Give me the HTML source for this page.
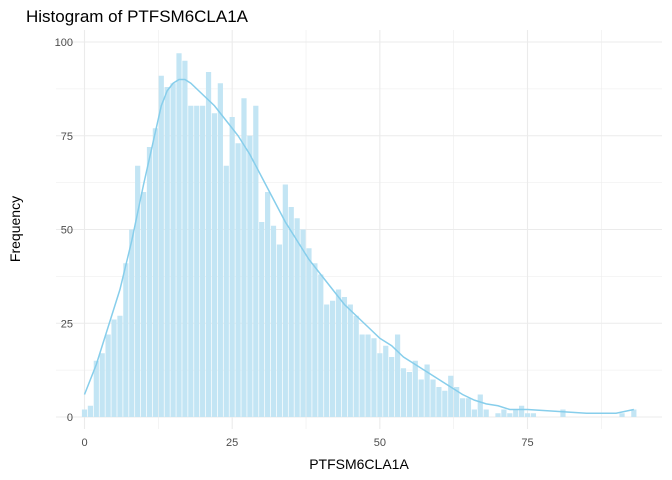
<!DOCTYPE html>
<html><head><meta charset="utf-8"><style>
body{margin:0;background:#fff;}
svg{display:block;font-family:"Liberation Sans",sans-serif;}
</style></head><body>
<svg id="chart" width="672" height="480">
<text x="26" y="22" font-size="17" fill="#000">Histogram of PTFSM6CLA1A</text>
<g id="grid"></g><g id="bars"></g><g id="line"></g><g id="axes"></g>
<text x="359" y="469" font-size="14" text-anchor="middle" fill="#000">PTFSM6CLA1A</text>
<text transform="translate(20,229) rotate(-90)" font-size="14" text-anchor="middle" fill="#000">Frequency</text>
</svg>
<script>
const binStarts = [0,1,2,3,4,5,6,7,8,9,10,11,12,13,14,15,16,17,18,19,20,21,22,23,24,25,26,27,28,29,30,31,32,33,34,35,36,37,38,39,40,41,42,43,44,45,46,47,48,49,50,51,52,53,54,55,56,57,58,59,60,61,62,63,64,65,66,67,68,69,70,71,72,73,74,75,76,77,78,79,80,81,82,83,84,85,86,87,88,89,90,91,92,93];
const counts = [2,3,15,17,22,26,27,41,50,67,60,72,77,91,88,89,97,95,83,83,83,92,81,89,67,80,73,85,75,83,52,60,51,46,62,56,53,50,45,41,38,30,31,34,32,30,27,22,22,21,17,19,16,22,13,12,15,10,14,10,8,7,11,8,5,5,2,6,2,0,1,2,1,2,3,1,1,0,0,0,0,2,0,0,0,0,0,0,0,0,0,1,0,2];
const curveX = [0,2,4,6,8,10,12,13,14,15,16,17,18,20,22,24,26,28,30,32,34,36,38,40,42,44,46,48,50,52,54,56,58,60,62,64,66,68,70,72,75,80,85,90,93];
const curveY = [6,14,24,34,47,62,76,83,87,89,90,90,89,86,83,79,75,70,64,58,52,47,42,38,34,30,27,24,21,19,16,14,12,10,8,6,4.5,3.5,3,2,2,1.5,1,1,2];
const xTicks = [0,25,50,75];
const yTicks = [0,25,50,75,100];
const NS="http://www.w3.org/2000/svg";
const X=v=>84.5+v*5.907, Y=v=>417-v*3.75;
const L=56,R=662,T=30,B=429;
const grid=document.getElementById('grid');
function ln(g,x1,y1,x2,y2,c,w){const e=document.createElementNS(NS,'line');e.setAttribute('x1',x1);e.setAttribute('y1',y1);e.setAttribute('x2',x2);e.setAttribute('y2',y2);e.setAttribute('stroke',c);e.setAttribute('stroke-width',w);g.appendChild(e);return e;}
for(let v=0;v<=100;v+=12.5){if(X(v)>R)continue;const e=ln(grid,X(v),T,X(v),B,'#ebebeb',v%25===0?1.1:0.55);

}
for(let v=0;v<=100;v+=12.5){const e=ln(grid,L,Y(v),R,Y(v),'#ebebeb',v%25===0?1.1:0.55);

}
const bars=document.getElementById('bars');
binStarts.forEach((b,i)=>{if(!counts[i])return;const r=document.createElementNS(NS,'rect');
r.setAttribute('x',X(b)-2.6);r.setAttribute('width',5.2);r.setAttribute('y',Y(counts[i]));r.setAttribute('height',Y(0)-Y(counts[i]));r.setAttribute('fill','#c3e5f4');


bars.appendChild(r);});
const p=document.createElementNS(NS,'path');
p.setAttribute('d',curveX.map((x,i)=>(i?'L':'M')+X(x)+','+Y(curveY[i])).join(''));
p.setAttribute('fill','none');p.setAttribute('stroke','#87ceeb');p.setAttribute('stroke-width',1.5);


document.getElementById('line').appendChild(p);
const ax=document.getElementById('axes');
function tx(x,y,s,a){const t=document.createElementNS(NS,'text');t.setAttribute('x',x);t.setAttribute('y',y);t.setAttribute('font-size',11);t.setAttribute('fill','#4d4d4d');t.setAttribute('text-anchor',a);t.textContent=s;ax.appendChild(t);return t;}
xTicks.forEach(v=>{const t=tx(X(v),446,v,'middle');

});
yTicks.forEach(v=>{const t=tx(73,Y(v)+4,v,'end');

});
</script>
</body></html>
